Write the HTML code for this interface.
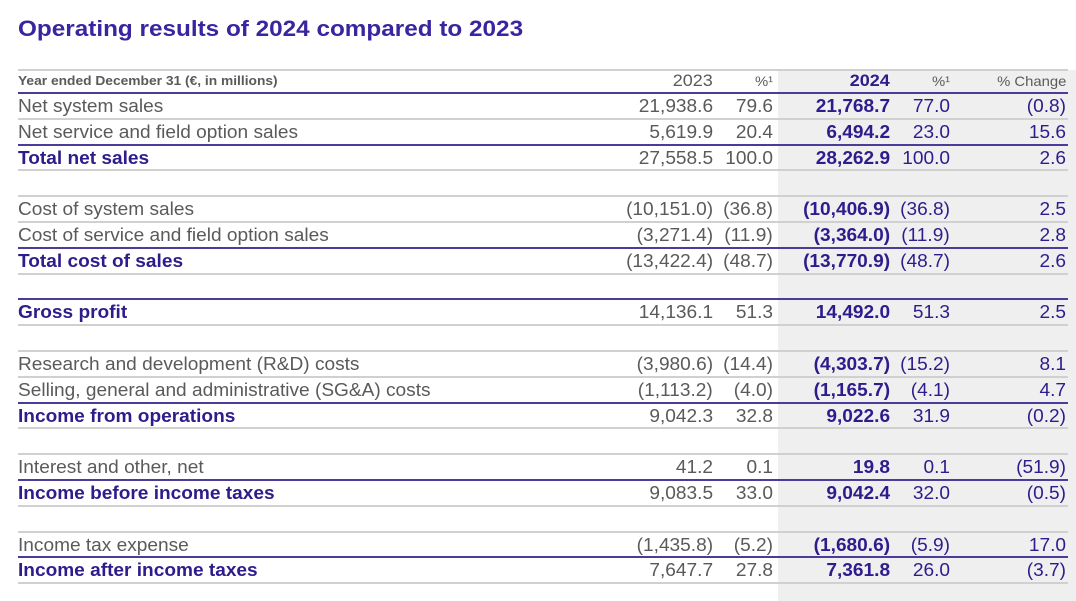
<!DOCTYPE html>
<html><head><meta charset="utf-8"><style>
body{margin:0;width:1076px;height:601px;background:#fff;position:relative;overflow:hidden;font-family:"Liberation Sans",Arial,sans-serif}
.t{position:absolute;white-space:nowrap;line-height:20px;font-size:18px}
#tbl .t{transform:scaleX(1.06);transform-origin:left center}
#tbl .t.r{transform-origin:right center}
.g{color:#5a5a5a}.p{color:#2e1c8c}.b{font-weight:bold}
.ln{position:absolute;left:18px;width:1050px;height:2px}
</style></head><body>
<div style="position:absolute;left:778px;top:70px;width:298px;height:531px;background:#efefef"></div>
<div class="t p b" style="left:18px;top:16px;font-size:22.5px;line-height:26px;color:#3a24a0;transform:scaleX(1.08);transform-origin:left center">Operating results of 2024 compared to 2023</div>
<div id="tbl"></div>
<script>
const labels=["Net system sales","Net service and field option sales","Total net sales","","Cost of system sales","Cost of service and field option sales","Total cost of sales","","Gross profit","","Research and development (R&D) costs","Selling, general and administrative (SG&A) costs","Income from operations","","Interest and other, net","Income before income taxes","","Income tax expense","Income after income taxes"];
const v2023=["21,938.6","5,619.9","27,558.5","","(10,151.0)","(3,271.4)","(13,422.4)","","14,136.1","","(3,980.6)","(1,113.2)","9,042.3","","41.2","9,083.5","","(1,435.8)","7,647.7"];
const p2023=["79.6","20.4","100.0","","(36.8)","(11.9)","(48.7)","","51.3","","(14.4)","(4.0)","32.8","","0.1","33.0","","(5.2)","27.8"];
const v2024=["21,768.7","6,494.2","28,262.9","","(10,406.9)","(3,364.0)","(13,770.9)","","14,492.0","","(4,303.7)","(1,165.7)","9,022.6","","19.8","9,042.4","","(1,680.6)","7,361.8"];
const p2024=["77.0","23.0","100.0","","(36.8)","(11.9)","(48.7)","","51.3","","(15.2)","(4.1)","31.9","","0.1","32.0","","(5.9)","26.0"];
const chg=["(0.8)","15.6","2.6","","2.5","2.8","2.6","","2.5","","8.1","4.7","(0.2)","","(51.9)","(0.5)","","17.0","(3.7)"];
const bold=[0,0,1,0,0,0,1,0,1,0,0,0,1,0,0,1,0,0,1];
const tbl=document.getElementById('tbl');
const top0=93,rh=25.8;
function txt(s,cls,x,y,right,name){const d=document.createElement('div');d.className='t '+cls+(right?' r':'');d.textContent=s;
d.style.top=y+'px';if(right){d.style.right=(1076-x)+'px';}else d.style.left=x+'px';


tbl.appendChild(d);}
function line(y,col,name){const d=document.createElement('div');d.className='ln';d.style.top=(y-1)+'px';d.style.background=col;


tbl.appendChild(d);}
line(70,'#d0d0d0','header-top-rule');
txt('Year ended December 31 (€, in millions)','g b',18,71,false,'header-label');
tbl.lastChild.style.fontSize='13px';
[['2023',713,'g'],['%¹',773,'g'],['2024',890,'p b'],['%¹',950,'g'],['% Change',1066,'g']].forEach((h,i)=>{txt(h[0],h[2],h[1],71,true,'column-header');if(i!=0&&i!=2)tbl.lastChild.style.fontSize='14px';else tbl.lastChild.style.fontSize='17px';});
line(93,'#4b3c9a','header-bottom-rule');
labels.forEach((l,i)=>{
 const y=top0+i*rh;
 if(l==='')return;
 if(i>0) line(y,bold[i]?'#4b3c9a':'#d0d0d0','row-rule');
 line(y+rh,'#d0d0d0','row-rule');
 const ty=y+3;
 txt(l,bold[i]?'p b':'g',18,ty,false,'row-label');
 txt(v2023[i],'g',713,ty,true,'value-2023');
 txt(p2023[i],'g',773,ty,true,'pct-2023');
 txt(v2024[i],'p b',890,ty,true,'value-2024');
 txt(p2024[i],'p',950,ty,true,'pct-2024');
 txt(chg[i],'p',1066,ty,true,'pct-change');
});
</script>
</body></html>
